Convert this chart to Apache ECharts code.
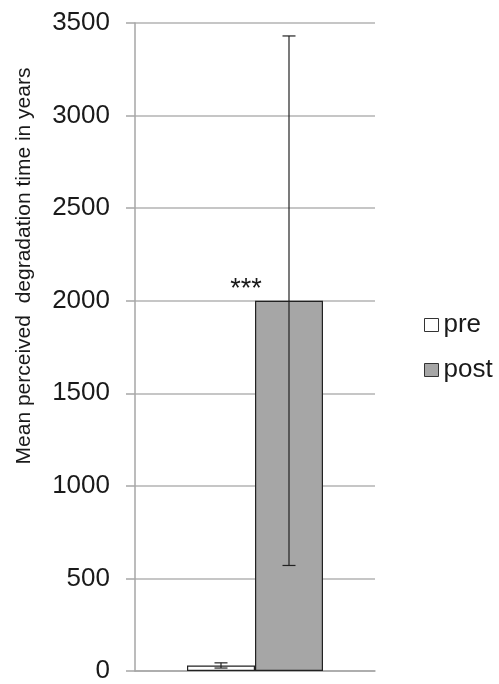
<!DOCTYPE html>
<html>
<head>
<meta charset="utf-8">
<script src="https://cdn.jsdelivr.net/npm/echarts@6/dist/echarts.min.js"></script>
<style>
  html, body { margin: 0; padding: 0; background: #fff; }
  #chart { width: 499px; height: 684px; }
</style>
</head>
<body>
<div id="chart"></div>
<script>
// data
const categories = ['']
const seriesNames = ['pre', 'post']
const means = [30, 2000]
const errors = [14, 1430]
const signif = '***'

const barWidth = 68
const fontFam = '"Liberation Sans", Arial, sans-serif'

let myChart = echarts.init(document.getElementById('chart'))

// error bar data: [category, mean, err, series index]
let errData = means.map(function (m, i) {
	return [0, m, errors[i], i]
})

let option = {
	animation: false,
	grid: {
		left: 135,
		right: 124,
		top: 23,
		bottom: 12
	},
	legend: {
		data: seriesNames,
		orient: 'vertical',
		left: 419,
		top: 307,
		itemWidth: 14,
		itemHeight: 13,
		itemGap: 19,
		icon: 'rect',
		itemStyle: { borderWidth: 1, borderColor: '#333333' },
		textStyle: {
			fontFamily: fontFam,
			fontSize: 26,
			color: '#1a1a1a'
		}
	},
	xAxis: {
		type: 'category',
		data: categories,
		axisLine: { lineStyle: { color: '#a6a6a6', width: 1.5 } },
		axisTick: { show: false },
		axisLabel: { show: false }
	},
	yAxis: {
		type: 'value',
		min: 0,
		max: 3500,
		interval: 500,
		axisLine: { show: true, lineStyle: { color: '#a6a6a6', width: 1.5 } },
		axisTick: { show: true, length: 9, lineStyle: { color: '#a6a6a6', width: 1.5 } },
		splitLine: { lineStyle: { color: '#b3b3b3', width: 1.5 } },
		axisLabel: {
			fontFamily: fontFam,
			fontSize: 26,
			color: '#1a1a1a',
			margin: 25,
			formatter: function (v) { return String(v) }
		}
	},
	graphic: [{
		type: 'text',
		x: 24,
		y: 266,
		rotation: Math.PI / 2,
		style: {
			text: 'Mean perceived  degradation time in years',
			fontFamily: fontFam,
			fontSize: 21,
			fill: '#1a1a1a',
			align: 'center',
			verticalAlign: 'middle'
		}
	}],
	series: [
		{
			name: seriesNames[0],
			type: 'bar',
			barWidth: barWidth,
			barGap: '0%',
			data: [means[0]],
			itemStyle: { color: '#ffffff', borderColor: '#222222', borderWidth: 1.2 }
		},
		{
			name: seriesNames[1],
			type: 'bar',
			barWidth: barWidth,
			barGap: '0%',
			data: [means[1]],
			itemStyle: { color: '#a6a6a6', borderColor: '#222222', borderWidth: 1.2 },
			label: {
				show: true,
				position: 'top',
				offset: [-43, 7],
				formatter: signif,
				fontFamily: fontFam,
				fontSize: 27,
				color: '#1a1a1a'
			}
		},
		{
			type: 'custom',
			data: errData,
			z: 10,
			silent: true,
			renderItem: function (params, api) {
				let idx = api.value(3)
				let mean = api.value(1)
				let err = api.value(2)
				let c = api.coord([api.value(0), mean])
				let x = c[0] + (idx === 0 ? -barWidth / 2 : barWidth / 2)
				let top = api.coord([api.value(0), mean + err])[1]
				let bot = api.coord([api.value(0), mean - err])[1]
				let hw = 6.5
				let style = { stroke: '#222222', lineWidth: 1.2, fill: null }
				return {
					type: 'group',
					children: [
						{ type: 'line', shape: { x1: x, y1: top, x2: x, y2: bot }, style: style },
						{ type: 'line', shape: { x1: x - hw, y1: top, x2: x + hw, y2: top }, style: style },
						{ type: 'line', shape: { x1: x - hw, y1: bot, x2: x + hw, y2: bot }, style: style }
					]
				}
			}
		}
	]
}

myChart.setOption(option)
</script>
</body>
</html>
